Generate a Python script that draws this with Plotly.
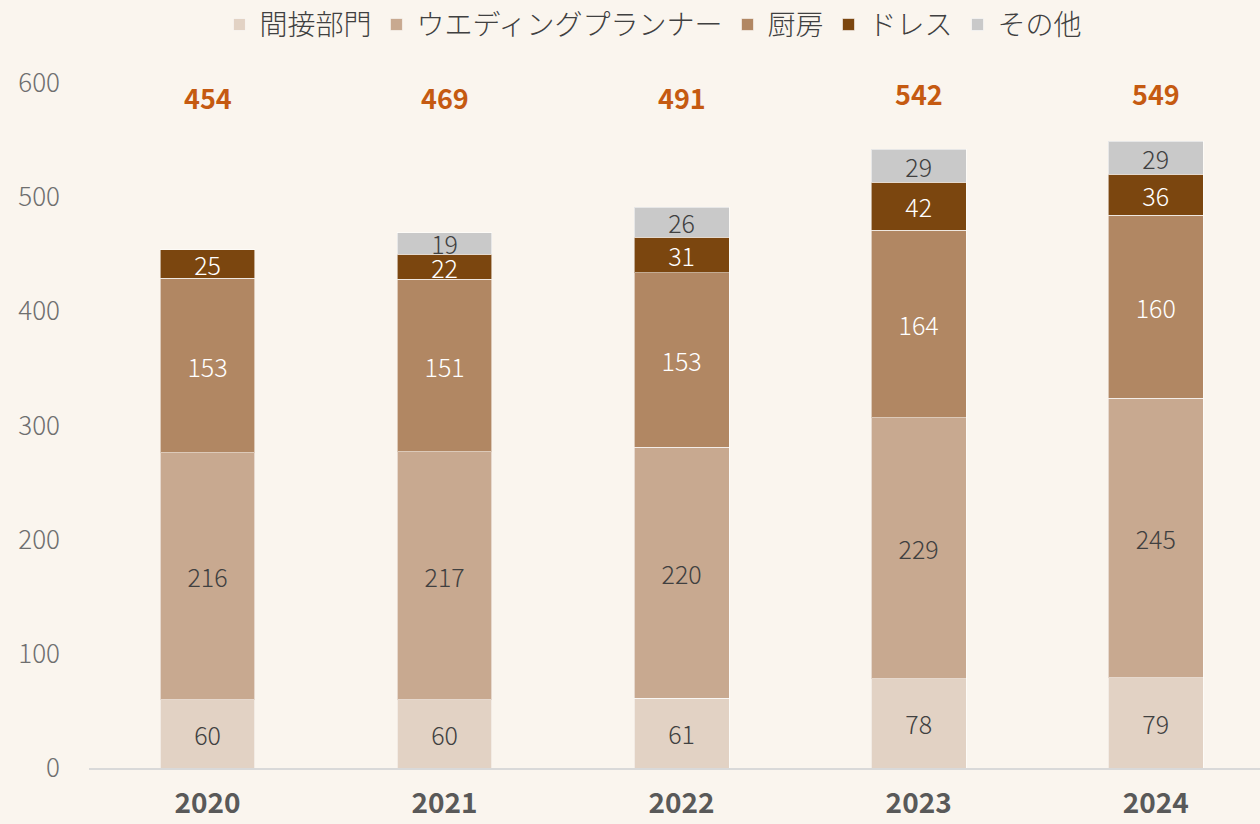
import plotly.graph_objects as go

years = ["2020", "2021", "2022", "2023", "2024"]
series_names = ["間接部門", "ウエディングプランナー", "厨房", "ドレス", "その他"]
indirect = [60, 60, 61, 78, 79]
planner = [216, 217, 220, 229, 245]
kitchen = [153, 151, 153, 164, 160]
dress = [25, 22, 31, 42, 36]
other = [None, 19, 26, 29, 29]
totals = [454, 469, 491, 542, 549]

colors = ["#E2D2C4", "#C8A990", "#B18763", "#7B460F", "#C9C9C9"]
text_colors = ["#404040", "#404040", "#FFFFFF", "#FFFFFF", "#404040"]
values = [indirect, planner, kitchen, dress, other]

FONT = "Noto Sans CJK JP"
fig = go.Figure()
for name, vals, c, tc in zip(series_names, values, colors, text_colors):
    fig.add_trace(go.Bar(
        x=years, y=vals, name=name,
        marker=dict(color=c, line=dict(color="rgba(255,255,255,0.55)", width=1)),
        text=[("" if v is None else str(v)) for v in vals],
        textposition="inside", insidetextanchor="middle",
        textangle=0, constraintext="none",
        textfont=dict(family=FONT, size=25, color=tc, weight=300),
        width=0.4,
    ))

for i, t in enumerate(totals):
    fig.add_annotation(x=i, y=(587 if t < 500 else 591), text=f"<b>{t}</b>",
                       xref="x", yref="y",
                       showarrow=False, yanchor="middle",
                       font=dict(family=FONT, size=27, color="#C55A11"))

fig.update_layout(
    barmode="stack",
    width=1260, height=824,
    paper_bgcolor="#FAF5EE", plot_bgcolor="#FAF5EE",
    margin=dict(l=89, r=0, t=83, b=56, autoexpand=False),
    font=dict(family=FONT, color="#595959"),
    legend=dict(orientation="h", x=0.482, xanchor="center", y=1.085, yanchor="middle",
                traceorder="normal", font=dict(family=FONT, size=28, color="#404040", weight=300),
                itemwidth=30, bgcolor="rgba(0,0,0,0)"),
    xaxis=dict(type="category", range=[-0.5, 4.44], showline=True, linecolor="#D9D9D9", linewidth=2,
               tickfont=dict(family=FONT, size=28, color="#595959", weight="bold"),
               ticks="", showgrid=False, fixedrange=True, ticklabelstandoff=9, automargin=False),
    yaxis=dict(range=[0, 600], dtick=100, showgrid=False, zeroline=False,
               tickfont=dict(family=FONT, size=26, color="#6E6E6E", weight=300),
               ticklabelstandoff=28, fixedrange=True, automargin=False),
    showlegend=True,
)
fig.write_html("out.html", config={"displayModeBar": False},
               post_script="document.body.style.margin='0';document.body.style.padding='0';")
